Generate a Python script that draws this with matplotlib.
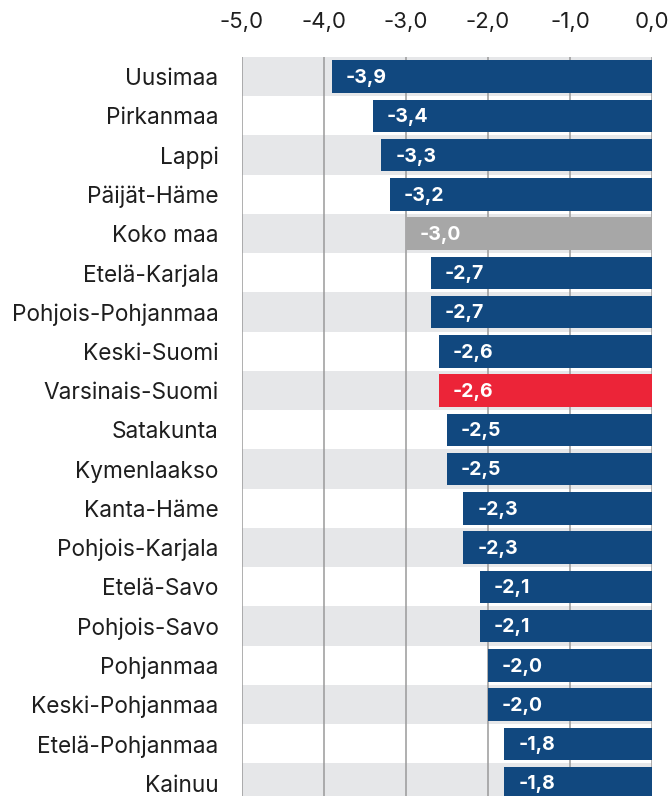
import matplotlib.pyplot as plt
import matplotlib

matplotlib.rcParams["font.family"] = ["Inter", "DejaVu Sans"]

regions = ["Uusimaa", "Pirkanmaa", "Lappi", "Päijät-Häme", "Koko maa",
           "Etelä-Karjala", "Pohjois-Pohjanmaa", "Keski-Suomi", "Varsinais-Suomi",
           "Satakunta", "Kymenlaakso", "Kanta-Häme", "Pohjois-Karjala",
           "Etelä-Savo", "Pohjois-Savo", "Pohjanmaa", "Keski-Pohjanmaa",
           "Etelä-Pohjanmaa", "Kainuu"]
values = [-3.9, -3.4, -3.3, -3.2, -3.0, -2.7, -2.7, -2.6, -2.6, -2.5, -2.5,
          -2.3, -2.3, -2.1, -2.1, -2.0, -2.0, -1.8, -1.8]
x_ticks = [-5, -4, -3, -2, -1, 0]

navy = "#11487f"
colors = []
for r in regions:
    if r == "Koko maa":
        colors.append("#a7a7a7")
    elif r == "Varsinais-Suomi":
        colors.append("#ec2438")
    else:
        colors.append(navy)

fig = plt.figure(figsize=(6.7, 7.96), dpi=100)
ax = fig.add_axes([242 / 670, 0, 410 / 670, 739 / 796])

y = list(range(len(regions)))

# alternating background bands
for i in y:
    if i % 2 == 0:
        ax.axhspan(i - 0.5, i + 0.5, color="#e6e7e9", zorder=0, lw=0)

for xt in x_ticks:
    ax.axvline(xt, color="#9a9a9a", lw=1.1, zorder=1)

ax.barh(y, values, height=0.83, color=colors, zorder=2)

for i, v in enumerate(values):
    ax.annotate(f"{v:.1f}".replace(".", ","), xy=(v, i), xytext=(10, -1),
                textcoords="offset points", ha="left", va="center",
                color="white", fontsize=14, fontweight="bold", zorder=3)

ax.set_xlim(-5, 0)
ax.set_ylim(18.33, -0.5)
ax.set_yticks(y)
ax.set_yticklabels(regions, fontsize=16.3, color="#1e1e1e")
ax.set_xticks(x_ticks)
ax.set_xticklabels([f"{t:.1f}".replace(".", ",") for t in x_ticks],
                   fontsize=16, color="#1e1e1e")
ax.xaxis.tick_top()
ax.tick_params(axis="x", length=0, pad=18)
ax.tick_params(axis="y", length=0, pad=17)
for s in ax.spines.values():
    s.set_visible(False)

plt.savefig("out.png", dpi=100)
